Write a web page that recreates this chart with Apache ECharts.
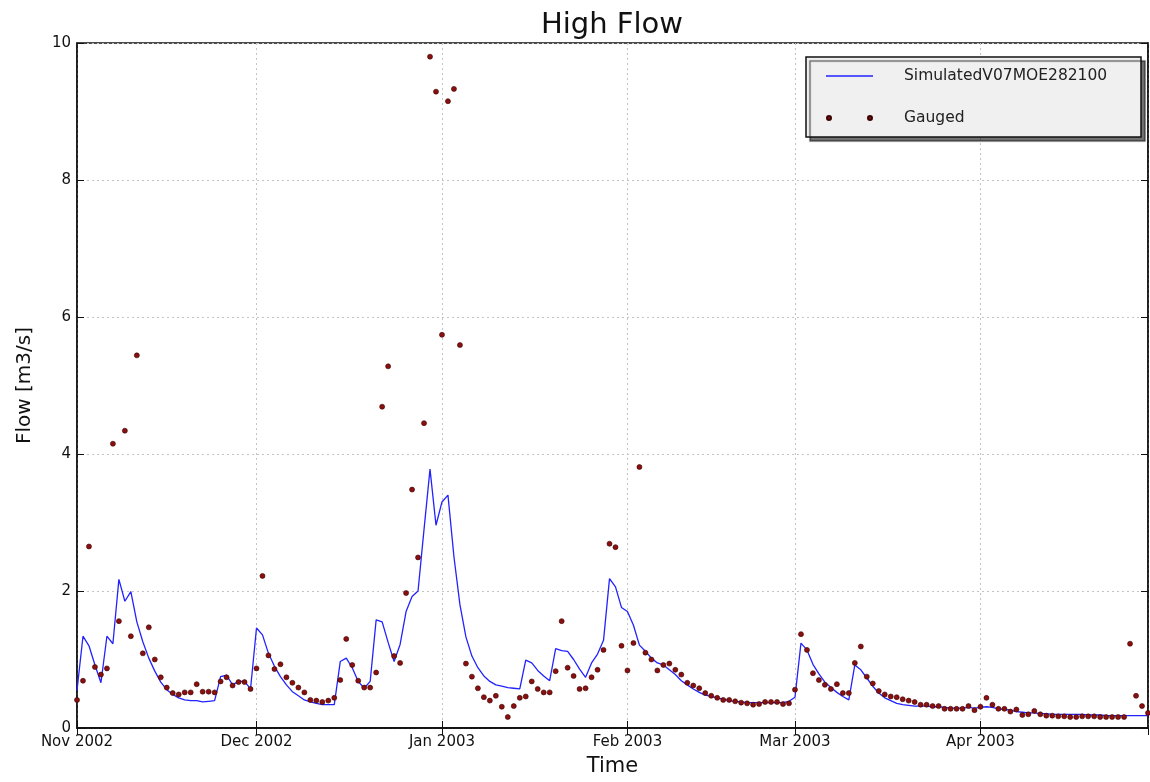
<!DOCTYPE html>
<html>
<head>
<meta charset="utf-8">
<script src="https://cdn.jsdelivr.net/npm/echarts@6/dist/echarts.min.js"></script>
<style>
  html, body { margin: 0; padding: 0; background: #ffffff; }
  #chart { width: 1150px; height: 782px; }
</style>
</head>
<body>
<div id="chart"></div>
<script>
// ---- Data (daily, 1 Nov 2002 .. 29 Apr 2003) ----
const startYear = 2002, startMonth = 10, startDay = 1;   // 1 Nov 2002
const endDate = [2003, 3, 29];                          // 29 Apr 2003
const monthNames = ['Jan','Feb','Mar','Apr','May','Jun','Jul','Aug','Sep','Oct','Nov','Dec'];

const simNov = [0.55,1.34,1.20,0.92,0.66,1.34,1.23,2.17,1.85,1.99,1.55,1.26,1.02,0.83,0.67,0.56,0.49,0.44,0.41,0.40,0.40,0.38,0.39,0.40,0.75,0.77,0.63,0.68,0.68,0.57];
const simDec = [1.46,1.36,1.09,0.90,0.75,0.63,0.53,0.47,0.41,0.38,0.36,0.34,0.34,0.34,0.97,1.02,0.88,0.68,0.58,0.68,1.58,1.55,1.25,0.97,1.22,1.70,1.92,2.00,2.90,3.78,2.96];
const simJan = [3.30,3.40,2.50,1.80,1.33,1.05,0.88,0.76,0.68,0.63,0.61,0.59,0.58,0.57,0.99,0.95,0.84,0.76,0.69,1.16,1.13,1.12,1.00,0.86,0.74,0.95,1.08,1.28,2.18,2.06,1.76];
const simFeb = [1.70,1.50,1.21,1.12,1.02,0.95,0.92,0.85,0.78,0.69,0.63,0.57,0.52,0.48,0.46,0.44,0.42,0.40,0.39,0.38,0.37,0.37,0.37,0.37,0.37,0.37,0.37,0.39];
const simMar = [0.45,1.24,1.14,0.93,0.79,0.67,0.59,0.52,0.46,0.41,0.92,0.85,0.73,0.61,0.51,0.44,0.40,0.36,0.34,0.33,0.32,0.32,0.32,0.31,0.31,0.30,0.29,0.29,0.29,0.30,0.29];
const simApr = [0.30,0.31,0.30,0.28,0.27,0.26,0.24,0.23,0.22,0.22,0.21,0.21,0.20,0.20,0.20,0.20,0.20,0.20,0.19,0.19,0.19,0.18,0.18,0.18,0.18,0.18,0.18,0.18,0.18];

const gaugedNov = [0.41,0.69,2.65,0.89,0.78,0.87,4.15,1.56,4.34,1.34,5.44,1.09,1.47,1.00,0.74,0.59,0.51,0.49,0.52,0.52,0.64,0.53,0.53,0.52,0.68,0.74,0.62,0.67,0.67,0.57];
const gaugedDec = [0.87,2.22,1.06,0.86,0.93,0.74,0.66,0.59,0.52,0.41,0.40,0.38,0.40,0.44,0.70,1.30,0.92,0.69,0.59,0.59,0.81,4.69,5.28,1.05,0.95,1.97,3.48,2.49,4.45,9.80,9.29];
const gaugedJan = [5.74,9.15,9.33,5.59,0.94,0.75,0.58,0.45,0.40,0.47,0.31,0.16,0.32,0.44,0.46,0.68,0.57,0.52,0.52,0.83,1.56,0.88,0.76,0.57,0.58,0.74,0.85,1.14,2.69,2.64,1.20];
const gaugedFeb = [0.84,1.24,3.81,1.10,1.00,0.84,0.92,0.94,0.85,0.78,0.66,0.62,0.58,0.51,0.47,0.44,0.41,0.41,0.39,0.37,0.36,0.34,0.35,0.38,0.38,0.38,0.35,0.36];
const gaugedMar = [0.56,1.37,1.14,0.80,0.70,0.63,0.57,0.64,0.51,0.51,0.95,1.19,0.75,0.65,0.54,0.49,0.46,0.45,0.42,0.40,0.38,0.34,0.34,0.32,0.32,0.28,0.28,0.28,0.28,0.32,0.26];
const gaugedApr = [0.31,0.44,0.34,0.28,0.28,0.24,0.27,0.19,0.20,0.25,0.20,0.18,0.18,0.17,0.17,0.16,0.16,0.17,0.17,0.17,0.16,0.16,0.16,0.16,0.16,1.23,0.47,0.32,0.22];

const simulated = [].concat(simNov, simDec, simJan, simFeb, simMar, simApr);
const gauged = [].concat(gaugedNov, gaugedDec, gaugedJan, gaugedFeb, gaugedMar, gaugedApr);

const dayTime = i => new Date(startYear, startMonth, startDay + i).getTime();
const simData = simulated.map((v, i) => [dayTime(i), v]);
const gaugedData = gauged.map((v, i) => [dayTime(i), v]);

const xMin = new Date(startYear, startMonth, startDay).getTime();
const xMax = new Date(endDate[0], endDate[1], endDate[2]).getTime();
const DAY = 86400000;

const FONT = 'DejaVu Sans';
const chart = echarts.init(document.getElementById('chart'), null, { renderer: 'canvas' });

const monthLabel = v => {
  const d = new Date(v);
  if (d.getDate() !== 1) return '';
  return monthNames[d.getMonth()] + ' ' + d.getFullYear();
};

chart.setOption({
  backgroundColor: '#ffffff',
  animation: false,
  title: {
    text: 'High Flow',
    left: 612,
    top: 11,
    textAlign: 'center',
    padding: 0,
    textStyle: { fontFamily: FONT, fontSize: 29, fontWeight: 'normal', color: '#111' }
  },
  grid: {
    left: 77, right: 2, top: 43, bottom: 52,
    show: true, borderColor: '#111', borderWidth: 1.5, backgroundColor: 'transparent'
  },
  legend: {
    orient: 'vertical',
    left: 806,
    top: 57,
    itemWidth: 47,
    itemHeight: 14,
    itemGap: 26,
    padding: [11, 10, 11, 19],
    backgroundColor: '#f0f0f0',
    borderColor: '#111',
    borderWidth: 1.5,
    borderRadius: 0,
    shadowColor: 'rgba(0,0,0,0.55)',
    shadowBlur: 1,
    shadowOffsetX: 4,
    shadowOffsetY: 4,
    symbolKeepAspect: false,
    selectedMode: false,
    textStyle: {
      fontFamily: FONT, fontSize: 15.5, color: '#222',
      padding: [0, 0, 0, 26], width: 227, lineHeight: 14
    },
    data: [
      { name: 'SimulatedV07MOE282100', icon: 'path://M0,0M47,14M0,6.3H47V7.7H0Z' },
      { name: 'Gauged', icon: 'path://M0,0M47,14M1,7a2,2 0 1,0 4,0a2,2 0 1,0 -4,0ZM42,7a2,2 0 1,0 4,0a2,2 0 1,0 -4,0Z' }
    ]
  },
  xAxis: [
    {
      type: 'time',
      min: xMin,
      max: xMax,
      minInterval: 28 * DAY,
      maxInterval: 31 * DAY,
      name: 'Time',
      nameLocation: 'middle',
      nameGap: 28,
      nameTextStyle: { fontFamily: FONT, fontSize: 21, color: '#111' },
      axisLine: { show: true, lineStyle: { color: '#111', width: 1.5 } },
      axisTick: { show: true, inside: true, length: 7, lineStyle: { color: '#111', width: 1 } },
      axisLabel: {
        fontFamily: FONT, fontSize: 15, color: '#111', margin: 7,
        showMaxLabel: false,
        formatter: monthLabel
      },
      splitLine: { show: true, lineStyle: { color: '#c4c4c4', type: [2, 3], width: 1 } },
      minorTick: { show: false }
    },
    {
      type: 'time',
      position: 'top',
      min: xMin,
      max: xMax,
      minInterval: 28 * DAY,
      maxInterval: 31 * DAY,
      axisLine: { show: true, lineStyle: { color: '#111', width: 1.5 } },
      axisTick: { show: true, inside: true, length: 7, lineStyle: { color: '#111', width: 1 } },
      axisLabel: { show: false },
      splitLine: { show: false }
    }
  ],
  yAxis: [
    {
      type: 'value',
      min: 0,
      max: 10,
      interval: 2,
      name: 'Flow [m3/s]',
      nameLocation: 'middle',
      nameRotate: 90,
      nameGap: 42,
      nameTextStyle: { fontFamily: FONT, fontSize: 20, color: '#111' },
      axisLine: { show: true, lineStyle: { color: '#111', width: 1.5 } },
      axisTick: { show: true, inside: true, length: 7, lineStyle: { color: '#111', width: 1 } },
      axisLabel: { fontFamily: FONT, fontSize: 15, color: '#111', margin: 6 },
      splitLine: { show: true, lineStyle: { color: '#c4c4c4', type: [2, 3], width: 1 } }
    },
    {
      type: 'value',
      position: 'right',
      min: 0,
      max: 10,
      interval: 2,
      axisLine: { show: true, lineStyle: { color: '#111', width: 1.5 } },
      axisTick: { show: true, inside: true, length: 7, lineStyle: { color: '#111', width: 1 } },
      axisLabel: { show: false },
      splitLine: { show: false }
    }
  ],
  series: [
    {
      name: 'SimulatedV07MOE282100',
      type: 'line',
      xAxisIndex: 0,
      yAxisIndex: 0,
      data: simData,
      showSymbol: false,
      symbol: 'none',
      smooth: false,
      color: '#2222ff',
      lineStyle: { color: '#2222ff', width: 1.3 },
      itemStyle: { color: '#2222ff' },
      z: 3
    },
    {
      name: 'Gauged',
      type: 'scatter',
      xAxisIndex: 0,
      yAxisIndex: 0,
      data: gaugedData,
      symbol: 'circle',
      symbolSize: 5,
      color: '#8a1010',
      itemStyle: { color: '#8a1010', borderColor: '#3a0000', borderWidth: 0.6, opacity: 1 },
      z: 4
    }
  ]
});
</script>
</body>
</html>
